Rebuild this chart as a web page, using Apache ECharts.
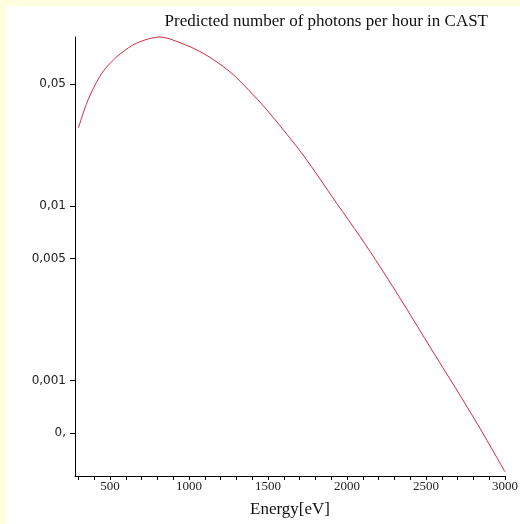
<!DOCTYPE html>
<html>
<head>
<meta charset="utf-8">
<script src="https://cdn.jsdelivr.net/npm/echarts@6/dist/echarts.min.js"></script>
<style>
  html, body { margin: 0; padding: 0; background: #FFFFE0; width: 520px; height: 524px; overflow: hidden; }
  #chart { position: absolute; left: 6px; top: 6px; width: 514px; height: 518px; background: #ffffff; }
</style>
</head>
<body>
<div id="chart"></div>
<script>
// Energy [eV] and predicted photons per hour
var energy = [300, 352, 405, 458, 511, 563, 669, 816, 943, 1090, 1259, 1407, 1513, 1722, 1935, 2082, 2209, 2367, 2525, 2684, 2842, 3000];
var photons = [0.0281, 0.0388, 0.0494, 0.0594, 0.0673, 0.0743, 0.0859, 0.0930, 0.0863, 0.075, 0.0588, 0.0433, 0.0338, 0.0196, 0.01036, 0.00669, 0.00449, 0.00267, 0.00156, 0.000915, 0.000532, 0.0003];

var xLabelValues = [500, 1000, 1500, 2000, 2500, 3000];
var xTickValues = [300, 400, 500, 600, 700, 800, 900, 1000, 1100, 1200, 1300, 1400, 1500, 1600, 1700, 1800, 1900, 2000, 2100, 2200, 2300, 2400, 2500, 2600, 2700, 2800, 2900, 3000];
var yTickValues = [0.0005, 0.001, 0.005, 0.01, 0.05];
var yTickLabels = ['0,', '0,001', '0,005', '0,01', '0,05'];

var titleText = 'Predicted number of photons per hour in CAST';
var xName = 'Energy[eV]';

var data = energy.map(function (e, i) { return [e, photons[i]]; });

var chart = echarts.init(document.getElementById('chart'), null, { renderer: 'canvas' });
chart.setOption({
  backgroundColor: '#ffffff',
  animation: false,
  title: {
    text: titleText,
    right: 32,
    top: 7,
    padding: 0,
    textStyle: { fontFamily: 'Liberation Serif', fontSize: 17, fontWeight: 'normal', color: '#111' }
  },
  grid: { left: 69, right: 15, top: 31, bottom: 48, containLabel: false, outerBoundsMode: 'none' },
  xAxis: {
    type: 'value',
    min: 278,
    max: 3000,
    name: xName,
    nameLocation: 'middle',
    nameGap: 25,
    nameTextStyle: { fontFamily: 'Liberation Serif', fontSize: 17, color: '#111' },
    axisLine: { show: true, onZero: false, lineStyle: { color: '#000', width: 1 } },
    axisTick: { show: true, length: 4, customValues: xTickValues, lineStyle: { color: '#000' } },
    axisLabel: {
      customValues: xLabelValues,
      margin: 4,
      fontFamily: 'Liberation Serif',
      fontSize: 13,
      color: '#222',
      formatter: function (v) { return String(Math.round(v)); }
    },
    splitLine: { show: false }
  },
  yAxis: {
    type: 'log',
    logBase: 10,
    min: 0.000284,
    max: 0.093,
    axisLine: { show: true, lineStyle: { color: '#000', width: 1 } },
    axisTick: { show: true, length: 5, customValues: yTickValues, lineStyle: { color: '#000' } },
    axisLabel: {
      customValues: yTickValues,
      margin: 9,
      fontFamily: 'DejaVu Sans',
      fontSize: 12,
      color: '#222',
      formatter: function (v) {
        var best = 0, bd = Infinity;
        for (var i = 0; i < yTickValues.length; i++) {
          var d = Math.abs(Math.log(v) - Math.log(yTickValues[i]));
          if (d < bd) { bd = d; best = i; }
        }
        return yTickLabels[best];
      }
    },
    splitLine: { show: false },
    minorTick: { show: false }
  },
  series: [{
    type: 'line',
    data: data,
    smooth: 0.3,
    showSymbol: false,
    lineStyle: { color: '#d42a3c', width: 1 },
    clip: false
  }]
});
</script>
</body>
</html>
